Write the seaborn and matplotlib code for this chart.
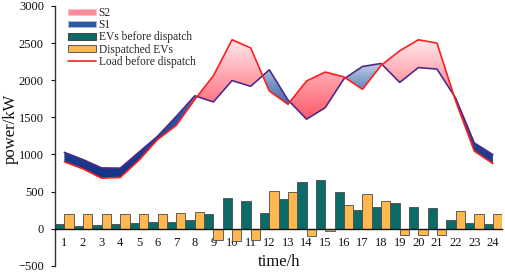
import numpy as np
import pandas as pd
import matplotlib
matplotlib.use("Agg")
import matplotlib.pyplot as plt
import seaborn as sns
from matplotlib.colors import LinearSegmentedColormap
from matplotlib.path import Path
from matplotlib.patches import Patch
from matplotlib.lines import Line2D

# ---------------- data ----------------
hours = list(range(1, 25))
load_before = [900, 805, 680, 690, 920, 1200, 1390, 1740, 2060, 2545, 2435, 1855,
               1675, 1990, 2110, 2045, 1878, 2200, 2396, 2545, 2500, 1720, 1045, 876]
load_after = [1028, 930, 818, 815, 1030, 1244, 1510, 1790, 1707, 1995, 1918, 2140,
              1735, 1475, 1630, 2017, 2185, 2225, 1970, 2170, 2150, 1760, 1155, 997]
ev_before = [58, 36, 45, 67, 76, 85, 90, 112, 202, 413, 369, 211,
             400, 629, 656, 490, 256, 296, 341, 287, 279, 121, 72, 58]
ev_dispatched = [198, 198, 198, 198, 198, 198, 211, 229, -148, -162, -148, 503,
                 494, -104, -36, 314, 467, 368, -90, -90, -90, 233, 193, 193]
series_names = ["EVs before dispatch", "Dispatched EVs"]
legend_labels = ["S2", "S1", "EVs before dispatch", "Dispatched EVs", "Load before dispatch"]
yticks = list(range(-500, 3001, 500))

# ---------------- style ----------------
sns.set_theme(style="white")
plt.rcParams["font.family"] = ["Liberation Serif", "DejaVu Serif"]

teal = "#0D6B67"
orange = "#FFB850"
red = "#FF1E1E"
purple = "#4E2A86"

fig = plt.figure(figsize=(5.05, 2.72), dpi=100)
ax = fig.add_axes([0.109, 0.023, 0.8855, 0.955])

# ---------------- bars ----------------
df = pd.DataFrame({
    "hour": hours * 2,
    "power": ev_before + ev_dispatched,
    "series": [series_names[0]] * 24 + [series_names[1]] * 24,
})
sns.barplot(data=df, x="hour", y="power", hue="series", hue_order=series_names,
            native_scale=True, width=1.0, gap=0, palette=[teal, orange],
            saturation=1, legend=False, ax=ax, linewidth=0.6, edgecolor="#4a4a4a",
            zorder=2)

# ---------------- gradient fills ----------------
hx = np.array(hours, float)
r = np.array(load_before, float)
p = np.array(load_after, float)
pc_s2 = ax.fill_between(hx, r, p, where=r >= p, interpolate=True,
                        facecolor="none", edgecolor="none")
pc_s1 = ax.fill_between(hx, r, p, where=p >= r, interpolate=True,
                        facecolor="none", edgecolor="none")

pink_cmap = LinearSegmentedColormap.from_list(
    "pink", [(0, "#FF5565"), (0.45, "#FF9AA5"), (1, "#FFF2F4")])
blue_cmap = LinearSegmentedColormap.from_list(
    "blue", [(0, "#15358A"), (0.5, "#2E57A6"), (0.75, "#6F8FC2"), (1, "#D2DCEA")])

yy = np.linspace(-500, 3000, 700).reshape(-1, 1)


def grad_fill(pc, cmap, vmin, vmax):
    path = Path.make_compound_path(*pc.get_paths())
    im = ax.imshow(yy, extent=[0.5, 24.5, -500, 3000], origin="lower",
                   aspect="auto", cmap=cmap, vmin=vmin, vmax=vmax, zorder=1.5,
                   interpolation="bilinear")
    im.set_clip_path(path, ax.transData)


grad_fill(pc_s2, pink_cmap, 1450, 2620)
grad_fill(pc_s1, blue_cmap, 800, 2300)

# ---------------- lines ----------------
sns.lineplot(x=hours, y=load_after, color=purple, lw=1.2, ax=ax, zorder=3)
sns.lineplot(x=hours, y=load_before, color=red, lw=1.2, ax=ax, zorder=3.5)

# ---------------- axes ----------------
ax.set_xlim(0.5, 24.5)
ax.set_ylim(-500, 3000)
ax.set_yticks(yticks)
ax.set_xticks(hours)
ax.set_xticklabels([str(h) for h in hours])
for s in ["top", "right"]:
    ax.spines[s].set_visible(False)
ax.spines["bottom"].set_position(("data", 0))
ax.spines["bottom"].set_color("#111111")
ax.spines["bottom"].set_linewidth(1.0)
ax.spines["bottom"].set_zorder(4)
ax.spines["left"].set_color("#333333")
ax.spines["left"].set_linewidth(1.0)
ax.tick_params(axis="x", length=0, pad=6, labelsize=9, colors="#111111")
ax.tick_params(axis="y", left=True, direction="out", length=3, width=0.8,
               pad=5, labelsize=9, colors="#111111")

ax.set_xlabel("time/h", fontsize=12, color="#111111")
ax.xaxis.set_label_coords(0.501, 0.014)
ax.xaxis.label.set_verticalalignment("center")
ax.set_ylabel("power/kW", fontsize=12, color="#111111")
ax.yaxis.set_label_coords(-0.099, 0.526)
ax.yaxis.label.set_verticalalignment("center")

# ---------------- legend ----------------
handles = [
    Patch(facecolor="#FF8C98", edgecolor="#FFC0C8", linewidth=0.6),
    Patch(facecolor="#2E57A6", edgecolor="#A9BCDC", linewidth=0.6),
    Patch(facecolor=teal, edgecolor="#333333", linewidth=0.6),
    Patch(facecolor=orange, edgecolor="#444444", linewidth=0.6),
    Line2D([], [], color=red, lw=1.2),
]
fig.legend(handles, legend_labels, loc="upper left",
           bbox_to_anchor=(68 / 505, 1 - 7 / 272), frameon=False,
           fontsize=8.3, handlelength=2.4, handleheight=0.5,
           labelspacing=0.02, handletextpad=0.25, borderpad=0,
           borderaxespad=0)

fig.savefig("out.png", dpi=100)
